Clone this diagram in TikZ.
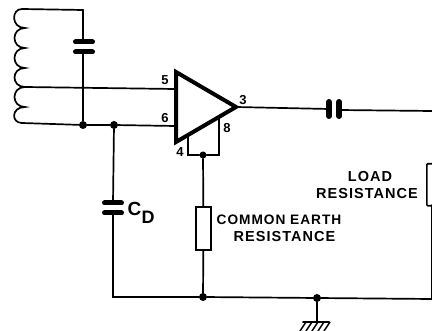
\documentclass[tikz,border=0pt]{standalone}
\usepackage{fontspec}
\setsansfont[LetterSpace=7]{Liberation Sans}
\usepackage{tikz}
\tikzset{
	wire/.style={line width=1.7pt,line cap=round},
	plate/.style={line width=5pt,line cap=round},
	dot/.style={circle,fill,inner sep=0pt,minimum size=8pt},
	pin/.style={font=\sffamily\bfseries\fontsize{13}{13}\selectfont,inner sep=0pt},
	lab/.style={font=\sffamily\bfseries\fontsize{14.5}{14.5}\selectfont,inner sep=0pt},
}
\begin{document}
\begin{tikzpicture}[x=1pt,y=-1pt]
	\useasboundingbox (0,0) rectangle (432,331);
	\clip (0,0) rectangle (432,331);
	\coordinate (A1) at (176,72);
	\coordinate (A2) at (176,142);
	\coordinate (A3) at (236,107);
	\coordinate (T0) at (22,9);
	\coordinate (T1) at (83,10);
	\coordinate (T2) at (25,87);
	\coordinate (T3) at (22,123);
	\coordinate (P5) at (175,89);
	\coordinate (P6) at (175,126);
	\coordinate (P4) at (188,136);
	\coordinate (P8) at (219,118);
	\coordinate (B4) at (188,155);
	\coordinate (B8) at (219,155);
	\coordinate (K1) at (329,109);
	\coordinate (K2) at (339,110);
	\coordinate (Kout) at (432,111);
	\coordinate (Bl) at (113,297);
	\coordinate (Br) at (432,299);
	\coordinate (L2) at (432,205);
	\coordinate (Lend) at (432,299);
	\coordinate (Eg) at (317,322);
	\node [dot] (J1) at (83,125) {};
	\node [dot] (J2) at (114,125) {};
	\node [dot,minimum size=7pt] (J3) at (203,155) {};
	\node [dot] (J4) at (203,297) {};
	\node [dot] (J5) at (317,298) {};
	\node [draw,line width=1.7pt,minimum width=15pt,minimum height=43pt,inner sep=0pt] (R1) at (203.5,228.5) {};
	\node [draw,line width=1.7pt,anchor=north west,minimum width=20pt,minimum height=42pt,inner sep=0pt,rounded corners=1pt] (R2) at (426,163) {};
	% coil
	\draw [wire] (T1) -- (T0) .. controls (11,9) and (11,28) .. (25,28)
		.. controls (11,28) and (11,48) .. (25,48)
		.. controls (11,48) and (11,68) .. (25,68)
		.. controls (11,68) and (11,87) .. (T2)
		.. controls (11,87) and (11,107) .. (25,107)
		.. controls (11,107) and (11,123) .. (T3);
	\draw [wire] (T2) -- (P5);
	\draw [wire] (T3) -- (J1) -- (J2) -- (P6);
	% tuning capacitor
	\coordinate (C1) at (83,42);
	\coordinate (C2) at (83,52);
	\draw [wire] (T1) -- (C1);
	\draw [wire] (C2) -- (J1);
	\draw [plate] (75.5,42) -- (92.5,42);
	\draw [plate] (75.5,52) -- (92.5,52);
	% amplifier
	\draw [line width=4pt,line join=miter] (A1) -- (A2) -- (A3) -- cycle;
	\draw [wire] (P4) -- (B4) -- (J3) -- (B8) -- (P8);
	\draw [wire] (A3) -- (K1);
	\draw [plate,line width=6pt] (329,102) -- (329,116);
	\draw [plate,line width=6pt] (339,102) -- (339,116);
	\draw [wire] (K2) -- (Kout);
	\draw [wire] (J3) -- (R1);
	\draw [wire] (R1) -- (J4);
	% CD
	\coordinate (D1) at (113,203);
	\coordinate (D2) at (113,213);
	\draw [wire] (J2) -- (D1);
	\draw [plate] (104.5,203) -- (121.5,203);
	\draw [plate] (104.5,213) -- (121.5,213);
	\draw [wire] (D2) -- (Bl) -- (J4) -- (J5) -- (Br);
	\draw [wire] (L2) -- (Lend);
	% earth
	\draw [wire] (J5) -- (Eg);
	\draw [wire] (303,322) -- (329,322);
	\foreach \x in {306,312,318,324,330}
		\draw [line width=1.4pt] (\x,322) -- (\x-6,331);
	% labels
	\node [pin] (N5) at (165,80) {5};
	\node [pin] (N6) at (165,118) {6};
	\node [pin] (N3) at (243,100) {3};
	\node [pin] (N4) at (180,152) {4};
	\node [pin] (N8) at (227,128) {8};
	\node [lab,font=\sffamily\bfseries\fontsize{19}{19}\selectfont] (CC) at (134.5,209) {C};
	\node [lab,font=\sffamily\bfseries\fontsize{18}{18}\selectfont] (CDD) at (148,217.5) {D};
	\node [lab] (T1a) at (370,177) {LOAD};
	\node [lab] (T1b) at (367,194) {RESISTANCE};
	\node [lab,font=\sffamily\bfseries\fontsize{13.7}{13.7}\selectfont] (T2a) at (279,220) {COMMON EARTH};
	\node [lab] (T2b) at (284.5,237) {RESISTANCE};
\end{tikzpicture}
\end{document}
